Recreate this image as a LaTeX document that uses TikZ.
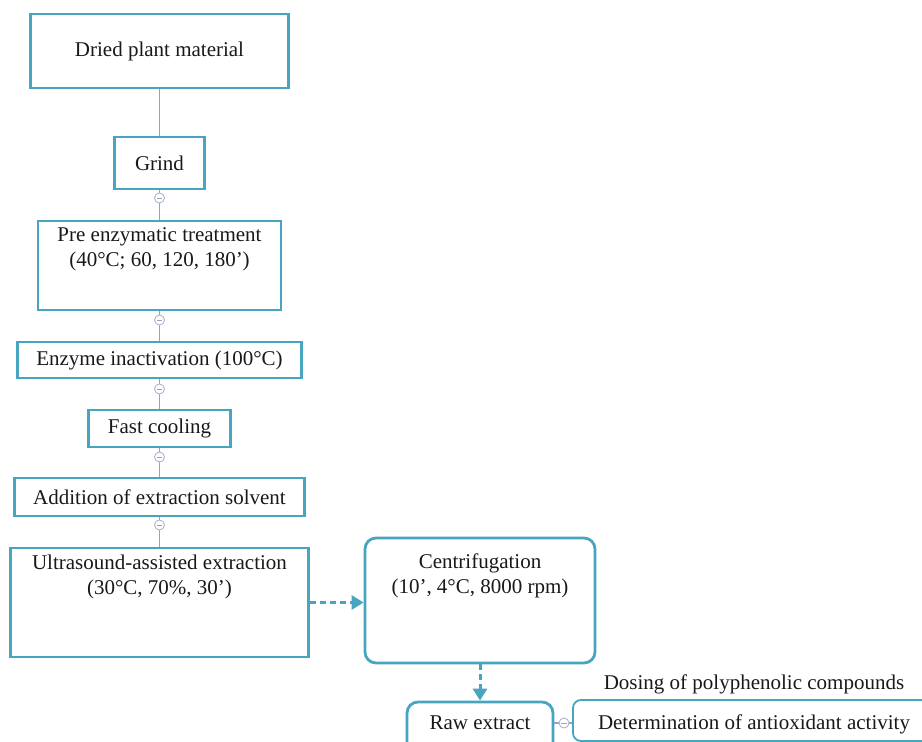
\documentclass[tikz,border=0pt]{standalone}
\usepackage{fontspec}
\setmainfont{Liberation Serif}
\usetikzlibrary{arrows.meta}
\definecolor{boxteal}{RGB}{72,165,192}
\definecolor{linkgray}{RGB}{150,162,195}
\definecolor{txt}{RGB}{25,25,25}
\tikzset{
  stepbox/.style={draw=boxteal, line width=2.8pt, fill=white, inner sep=0pt, text=txt, align=center},
  roundbox/.style={stepbox, rounded corners=11pt},
  thinround/.style={draw=boxteal, line width=1.8pt, fill=white, rounded corners=8pt, inner sep=0pt},
  lbl/.style={text=txt, align=center, inner sep=0pt},
  link/.style={draw=linkgray, line width=1.2pt},
  knob/.style={circle, draw=linkgray!80, fill=white, line width=0.9pt, minimum size=10pt, inner sep=0pt,
    path picture={\draw[linkgray, line width=0.9pt] ([xshift=-2.6pt]path picture bounding box.center) -- ([xshift=2.6pt]path picture bounding box.center);}},
  flow/.style={draw=boxteal, line width=3pt, dash pattern=on 6pt off 4pt, -{Triangle[length=12pt,width=14pt]}},
}
\begin{document}
\begin{tikzpicture}[x=1pt,y=-1pt, font=\fontsize{21}{25}\selectfont]
\useasboundingbox (0,0) rectangle (922,742);
\clip (0,0) rectangle (922,742);

% boxes
\node[stepbox, minimum width=258pt, minimum height=74pt] (dried) at (159.5,51) {Dried plant material};
\node[stepbox, minimum width=90pt, minimum height=52pt] (grind) at (159.5,163) {Grind};
\node[stepbox, minimum width=243pt, minimum height=89pt] (pre) at (159.5,265.5) {};
\node[lbl] (pretext) at (159.5,249) {Pre enzymatic treatment\\(40°C; 60, 120, 180’)};
\node[stepbox, minimum width=284pt, minimum height=36pt] (enz) at (159.5,360) {Enzyme inactivation (100°C)};
\node[stepbox, minimum width=142pt, minimum height=37pt] (fast) at (159.5,428.5) {Fast cooling};
\node[stepbox, minimum width=290pt, minimum height=38pt] (add) at (159.5,497) {Addition of extraction solvent};
\node[stepbox, minimum width=298pt, minimum height=109pt] (ultra) at (159.5,602.5) {};
\node[lbl] (ultratext) at (159.5,577) {Ultrasound-assisted extraction\\(30°C, 70\%, 30’)};
\node[roundbox, minimum width=230pt, minimum height=125pt] (cent) at (480,600.5) {};
\node[lbl] (centtext) at (480,576) {Centrifugation\\(10’, 4°C, 8000 rpm)};
\node[roundbox, minimum width=146pt, minimum height=56pt] (raw) at (480,730) {};
\node[lbl] (rawtext) at (480,723) {Raw extract};
\node[thinround, minimum width=370pt, minimum height=41pt] (det) at (758,720.5) {};
\node[lbl] (dettext) at (754,724) {Determination of antioxidant activity};
\node[lbl] (dose) at (754,684) {Dosing of polyphenolic compounds};

% connectors
\draw[link] (dried.south) -- (grind.north);
\draw[link] (grind.south) -- (pre.north);
\draw[link] (pre.south) -- (enz.north);
\draw[link] (enz.south) -- (fast.north);
\draw[link] (fast.south) -- (add.north);
\draw[link] (add.south) -- (ultra.north);
\draw[link] (raw.east |- rawtext) -- (det.west |- rawtext);

\node[knob] (k1) at (159.5,198) {};
\node[knob] (k2) at (159.5,320) {};
\node[knob] (k3) at (159.5,389) {};
\node[knob] (k4) at (159.5,457) {};
\node[knob] (k5) at (159.5,525) {};
\node[knob] (k6) at (564,723) {};

\draw[flow] (ultra.east) -- (cent.west |- ultra.east);
\draw[flow] (cent.south) -- (raw.north);
\end{tikzpicture}
\end{document}
